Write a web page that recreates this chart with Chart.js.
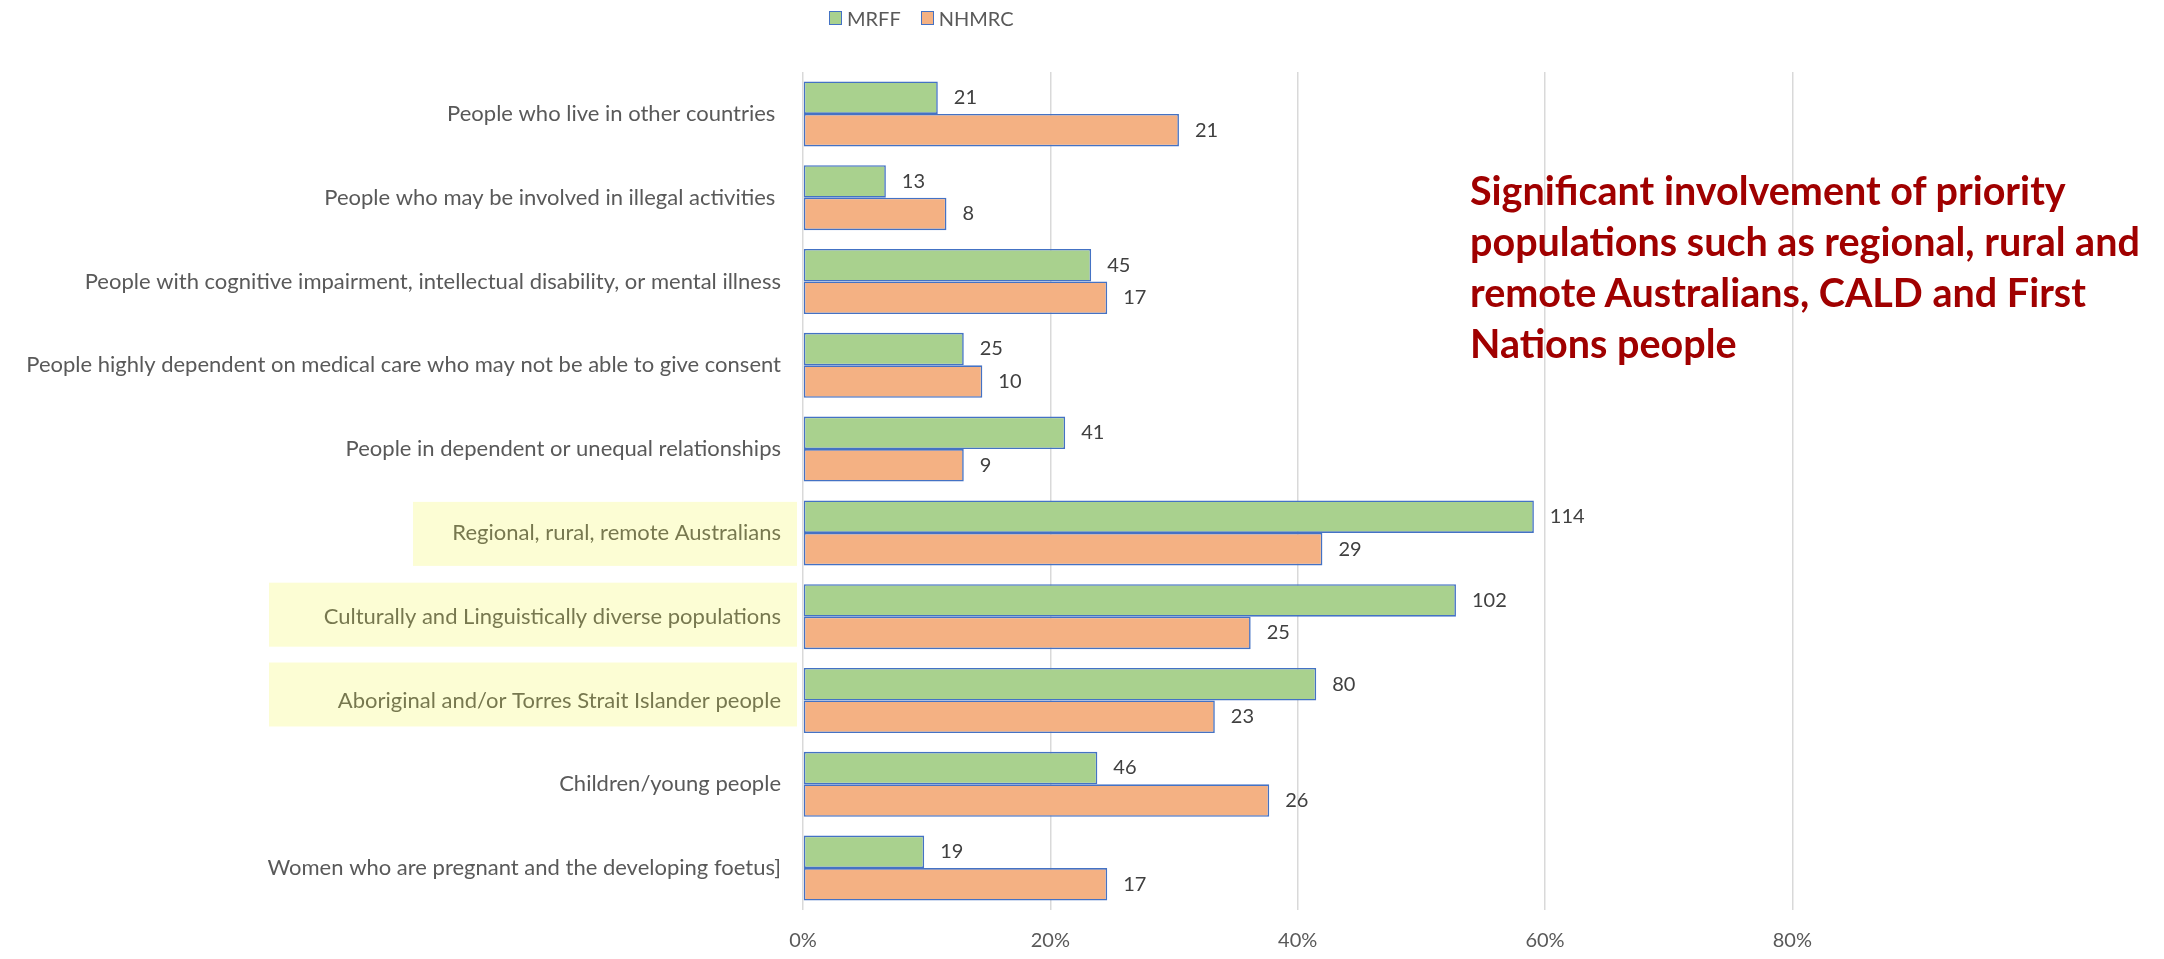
<!DOCTYPE html>
<html>
<head>
<meta charset="utf-8">
<script src="https://cdn.jsdelivr.net/npm/chart.js@4"></script>
<style>
  html, body { margin: 0; padding: 0; background: #fff; }
  #wrap { position: relative; width: 2164px; height: 959px; overflow: hidden; }
  #wrap canvas { position: absolute; left: 0; top: 0; }
  .legend { position: absolute; top: 6px; left: 829px; font-family: Lato, "Open Sans", sans-serif; font-size: 20px; color: #595959; display: flex; align-items: center; white-space: nowrap; }
  .legend .sw { display: inline-block; width: 11px; height: 12px; border: 1.5px solid #4472C4; margin-right: 5px; }
  .legend .item { display: flex; align-items: center; margin-right: 20px; }
  .note { position: absolute; left: 1470px; top: 164px; font-family: Lato, "Open Sans", sans-serif; font-weight: bold; font-size: 39.5px; line-height: 51px; color: #A00000; white-space: nowrap; }
</style>
</head>
<body>
<div id="wrap">
  <canvas id="c" width="2164" height="959"></canvas>
  <div class="legend" id="legend"></div>
  <div class="note">Significant involvement of priority<br>populations such as regional, rural and<br>remote Australians, CALD and First<br>Nations people</div>
</div>
<script>
const categories = [
  "People who live in other countries ",
  "People who may be involved in illegal activities ",
  "People with cognitive impairment, intellectual disability, or mental illness",
  "People highly dependent on medical care who may not be able to give consent",
  "People in dependent or unequal relationships",
  "Regional, rural, remote Australians",
  "Culturally and Linguistically diverse populations",
  "Aboriginal and/or Torres Strait Islander people",
  "Children/young people",
  "Women who are pregnant and the developing foetus]"
];
const seriesNames = ["MRFF", "NHMRC"];
const mrffShare  = [0.109, 0.067, 0.233, 0.130, 0.212, 0.591, 0.528, 0.415, 0.238, 0.098];
const nhmrcShare = [0.304, 0.116, 0.246, 0.145, 0.130, 0.420, 0.362, 0.333, 0.377, 0.246];
const mrffCount  = [21, 13, 45, 25, 41, 114, 102, 80, 46, 19];
const nhmrcCount = [21, 8, 17, 10, 9, 29, 25, 23, 26, 17];
const tickValues = [0, 0.2, 0.4, 0.6, 0.8];
const highlighted = [5, 6, 7];

const FONT = 'Lato, "Open Sans", sans-serif';
const fills = ['#A9D18E', '#F4B183'];
const counts = [mrffCount, nhmrcCount];

// HTML legend
const lg = document.getElementById('legend');
seriesNames.forEach((n, i) => {
  const it = document.createElement('span');
  it.className = 'item';
  const sw = document.createElement('span');
  sw.className = 'sw';
  sw.style.background = fills[i];
  it.appendChild(sw);
  it.appendChild(document.createTextNode(n));
  lg.appendChild(it);
});

const valueLabels = {
  id: 'valueLabels',
  afterDatasetsDraw(chart) {
    const ctx = chart.ctx;
    ctx.save();
    ctx.font = '20px ' + FONT;
    ctx.fillStyle = '#404040';
    ctx.textAlign = 'left';
    ctx.textBaseline = 'middle';
    chart.data.datasets.forEach((ds, di) => {
      chart.getDatasetMeta(di).data.forEach((bar, i) => {
        ctx.fillText(String(counts[di][i]), bar.x + 16, bar.y);
      });
    });
    ctx.restore();
  }
};

const highlightBoxes = {
  id: 'highlightBoxes',
  afterDraw(chart) {
    const ctx = chart.ctx;
    const y = chart.scales.y;
    const spec = { 5: [413, -31, 64], 6: [269, -34, 64], 7: [269, -38, 64] };
    ctx.save();
    ctx.fillStyle = 'rgba(238,245,40,0.2)';
    highlighted.forEach(idx => {
      const s = spec[idx];
      const cy = y.getPixelForValue(idx);
      ctx.fillRect(s[0], cy + s[1], 797 - s[0], s[2]);
    });
    ctx.restore();
  }
};

new Chart(document.getElementById('c'), {
  type: 'bar',
  data: {
    labels: categories,
    datasets: [
      { label: seriesNames[0], data: mrffShare, backgroundColor: fills[0] },
      { label: seriesNames[1], data: nhmrcShare, backgroundColor: fills[1] }
    ].map(d => Object.assign(d, {
      borderColor: '#4472C4', borderWidth: 1.6, borderSkipped: false,
      categoryPercentage: 0.776, barPercentage: 1.0
    }))
  },
  options: {
    indexAxis: 'y',
    responsive: false,
    animation: false,
    devicePixelRatio: 1,
    layout: { padding: { top: 72, right: 248, bottom: 0, left: 0 } },
    plugins: { legend: { display: false }, tooltip: { enabled: false } },
    scales: {
      x: {
        min: 0, max: 0.9,
        afterBuildTicks(s) { s.ticks = tickValues.map(v => ({ value: v })); },
        afterFit(s) { s.height = 49; },
        ticks: {
          callback: v => Math.round(v * 100) + '%',
          font: { family: FONT, size: 20 }, color: '#595959', padding: 19
        },
        grid: { color: '#D9D9D9', lineWidth: 1.5, drawTicks: false },
        border: { display: false }
      },
      y: {
        afterFit(s) { s.width = 803; },
        ticks: { font: { family: FONT, size: 22 }, color: '#595959', padding: 22, autoSkip: false },
        grid: { display: false, drawTicks: false },
        border: { display: false }
      }
    }
  },
  plugins: [valueLabels, highlightBoxes]
});
</script>
</body>
</html>
